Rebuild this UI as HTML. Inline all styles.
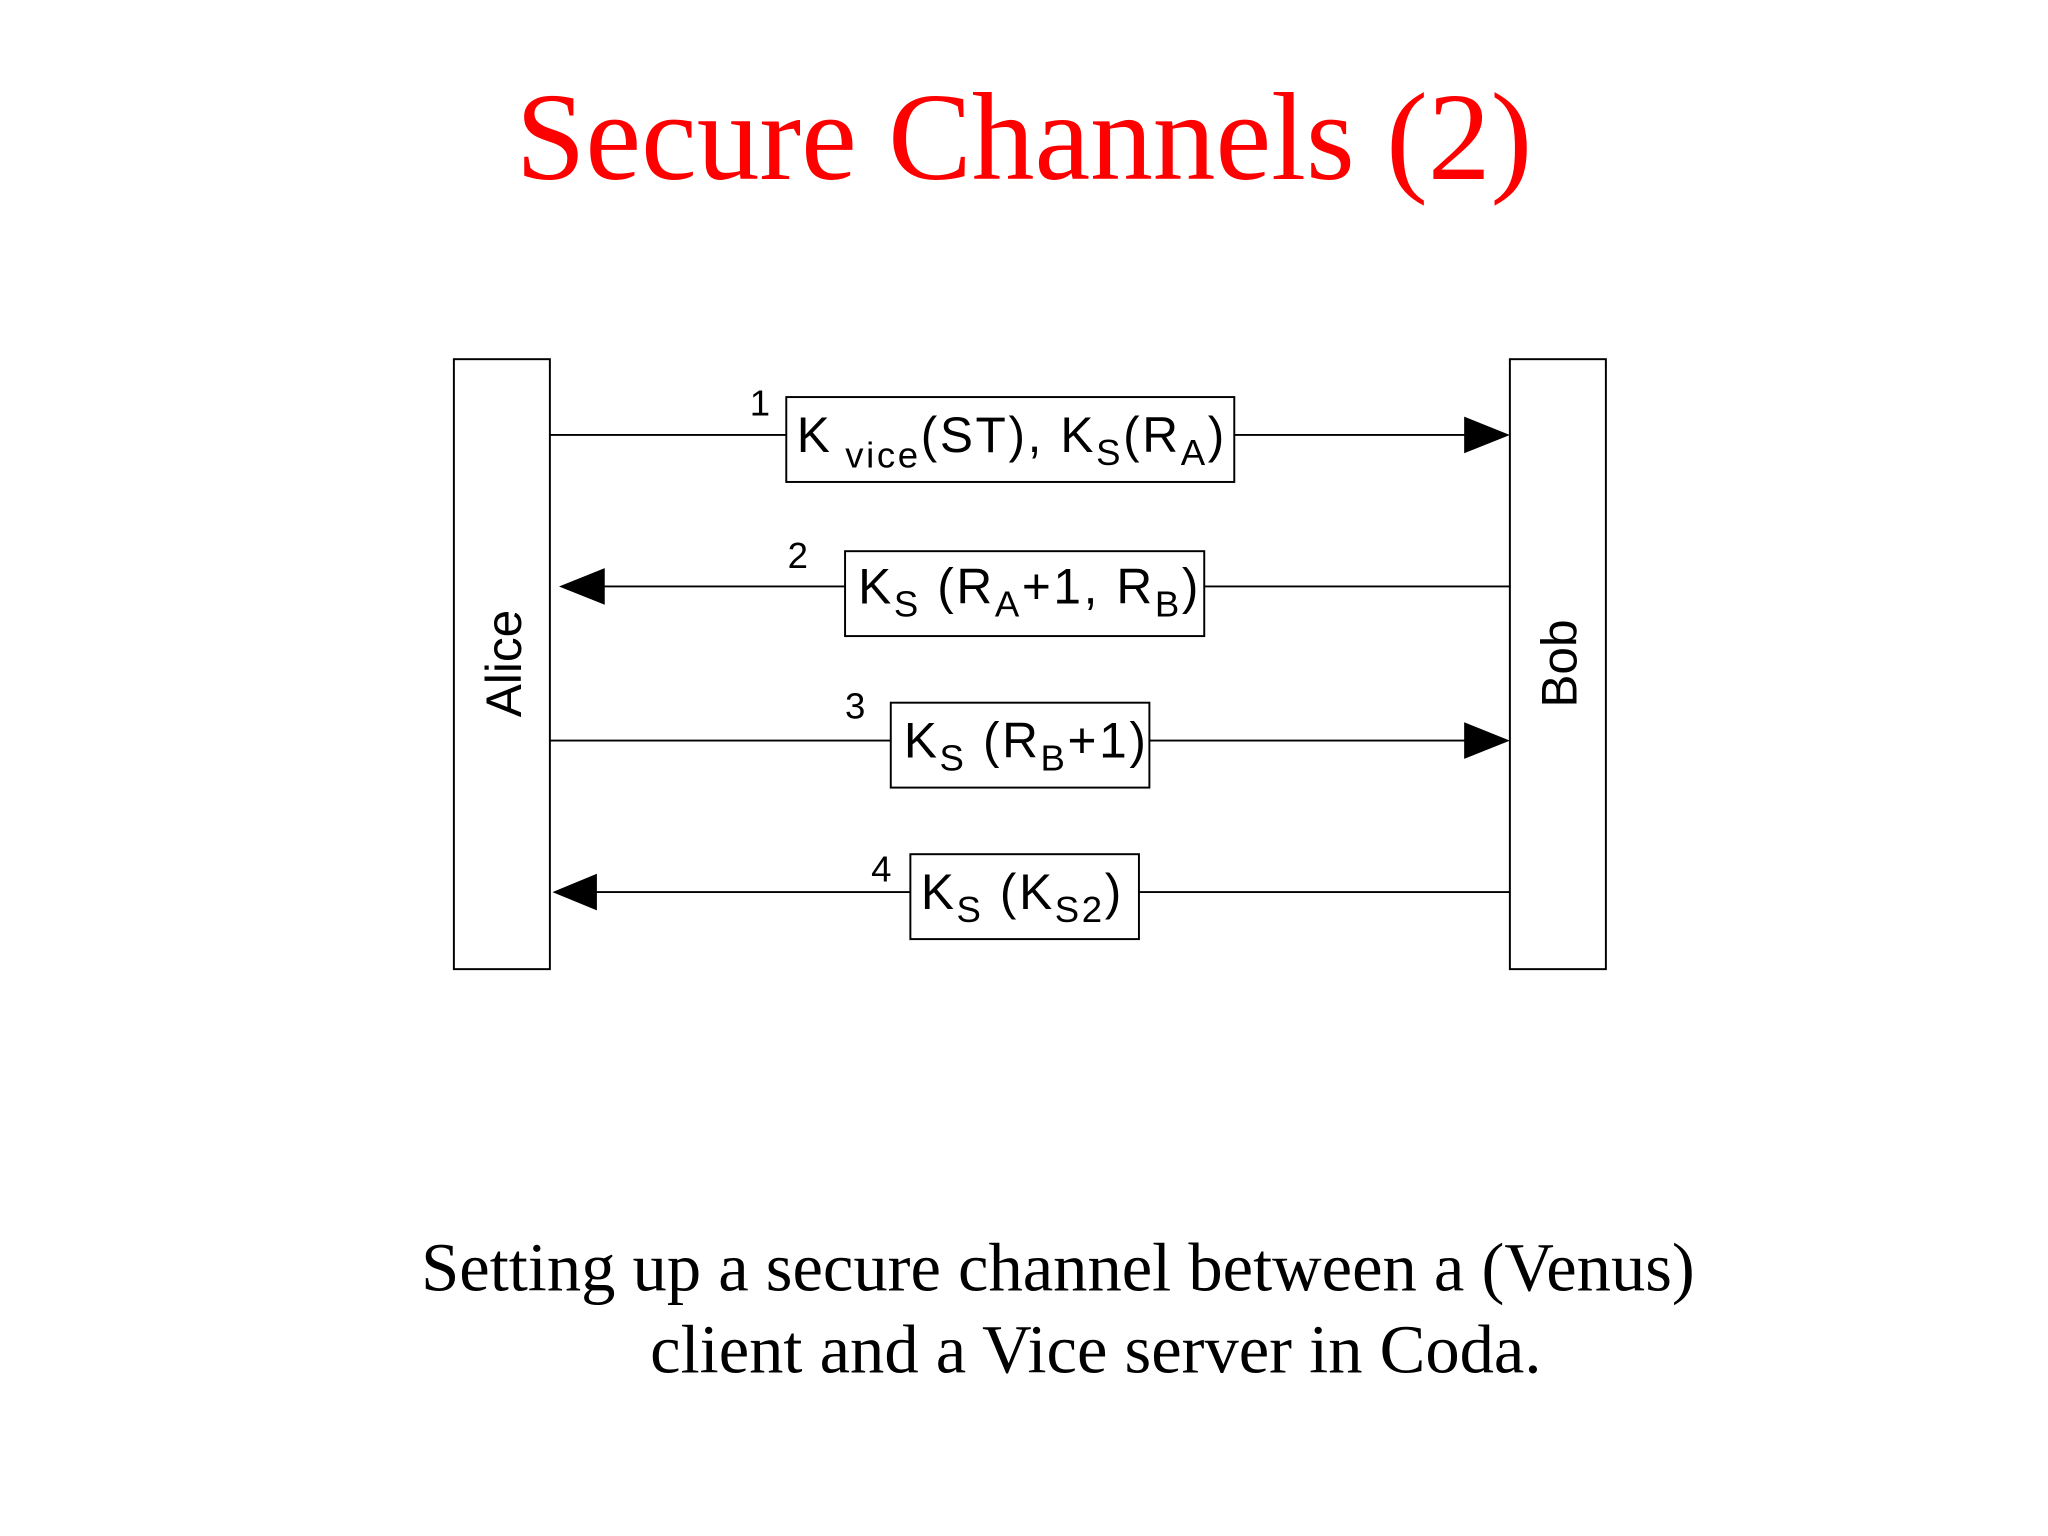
<!DOCTYPE html>
<html><head><meta charset="utf-8"><style>
html,body{margin:0;padding:0;background:#fff;}
svg{display:block}
</style></head><body>
<svg width="2048" height="1536" viewBox="0 0 1568 1176" xmlns="http://www.w3.org/2000/svg">
<rect width="1568" height="1176" fill="#fff"/>
<text x="784" y="137" text-anchor="middle" font-family="Liberation Serif, serif" font-size="96" fill="#ff0000">Secure Channels (2)</text>
<g stroke="#000" stroke-width="1.5" fill="none">
<rect x="347.5" y="275" width="73.5" height="467"/>
<rect x="1156" y="275" width="73.5" height="467"/>
<line x1="421" y1="333" x2="602" y2="333"/><line x1="945" y1="333" x2="1125" y2="333"/>
<line x1="460" y1="449" x2="647" y2="449"/><line x1="922" y1="449" x2="1156" y2="449"/>
<line x1="421" y1="567" x2="682" y2="567"/><line x1="880" y1="567" x2="1125" y2="567"/>
<line x1="455" y1="683" x2="697" y2="683"/><line x1="872" y1="683" x2="1156" y2="683"/>
<rect x="602" y="304" width="343" height="65" fill="#fff"/>
<rect x="647" y="422" width="275" height="65" fill="#fff"/>
<rect x="682" y="538" width="198" height="65" fill="#fff"/>
<rect x="697" y="654" width="175" height="65" fill="#fff"/>
</g>
<g fill="#000">
<polygon points="1156,333 1121,319 1121,347"/>
<polygon points="1156,567 1121,553 1121,581"/>
<polygon points="428,449 463,435 463,463"/>
<polygon points="423,683 457,669 457,697"/>
</g>
<g font-family="Liberation Sans, sans-serif" fill="#000">
<text x="574" y="318" font-size="28">1</text>
<text x="603" y="435" font-size="28">2</text>
<text x="647" y="550" font-size="28">3</text>
<text x="667" y="675" font-size="28">4</text>
<g letter-spacing="2">
<text x="610" y="346" font-size="38">K<tspan font-size="28" dy="12"> vice</tspan><tspan dy="-12">(ST), K</tspan><tspan font-size="28" dy="10">S</tspan><tspan dy="-10">(R</tspan><tspan font-size="28" dy="10">A</tspan><tspan dy="-10">)</tspan></text>
<text x="657" y="462" font-size="38">K<tspan font-size="28" dy="10">S</tspan><tspan dy="-10"> (R</tspan><tspan font-size="28" dy="10">A</tspan><tspan dy="-10">+1, R</tspan><tspan font-size="28" dy="10">B</tspan><tspan dy="-10">)</tspan></text>
<text x="692" y="580" font-size="38">K<tspan font-size="28" dy="10">S</tspan><tspan dy="-10"> (R</tspan><tspan font-size="28" dy="10">B</tspan><tspan dy="-10">+1)</tspan></text>
<text x="705" y="696" font-size="38">K<tspan font-size="28" dy="10">S</tspan><tspan dy="-10"> (K</tspan><tspan font-size="28" dy="10">S2</tspan><tspan dy="-10">)</tspan></text>
</g>
<text transform="translate(399,508) rotate(-90)" text-anchor="middle" font-size="38">Alice</text>
<text transform="translate(1207,508) rotate(-90)" text-anchor="middle" font-size="38">Bob</text>
</g>
<g font-family="Liberation Serif, serif" font-size="52.5" fill="#000" text-anchor="middle">
<text x="810" y="988">Setting up a secure channel between a (Venus)</text>
<text x="839" y="1051">client and a Vice server in Coda.</text>
</g>
</svg>
</body></html>
